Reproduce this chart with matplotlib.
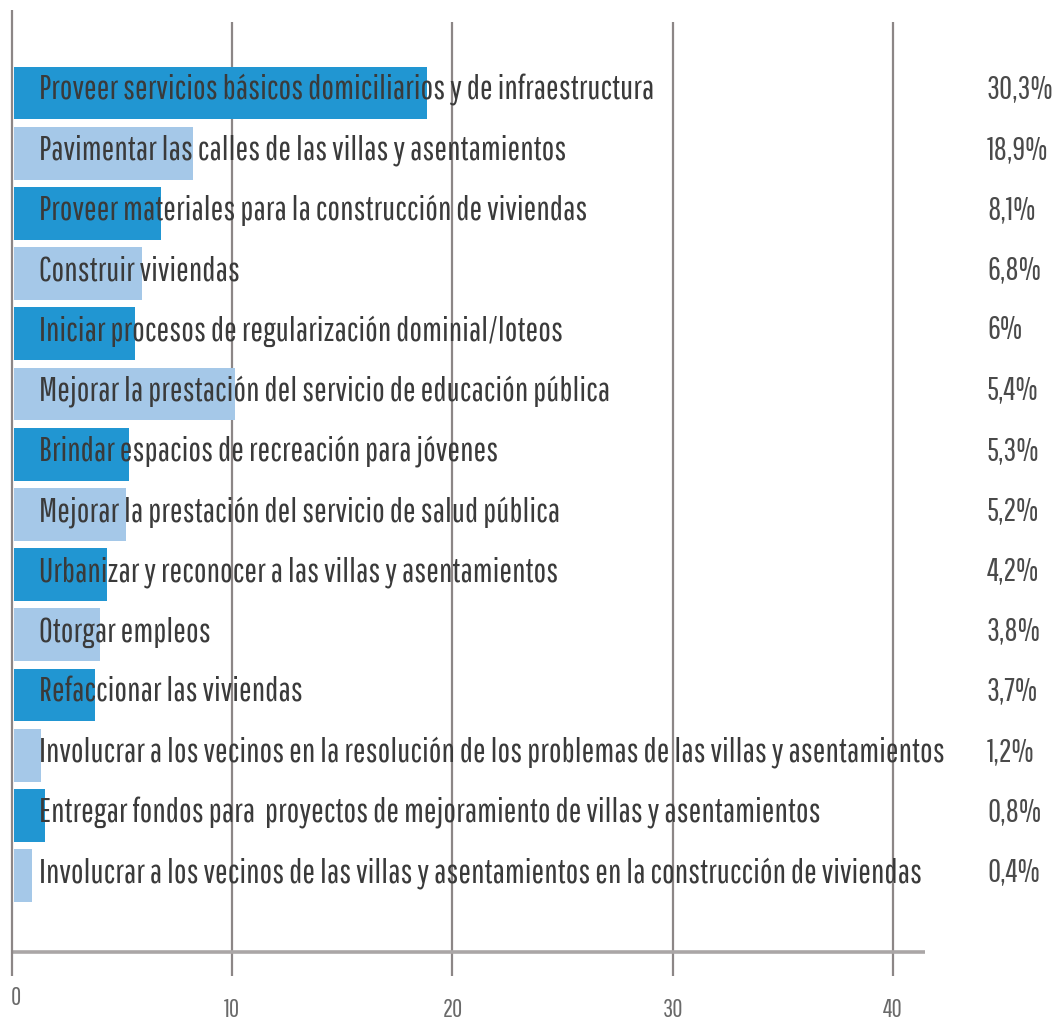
import matplotlib
matplotlib.use("Agg")
import matplotlib.pyplot as plt
from matplotlib import font_manager as fm

# ---- data ----
categories = [
    "Proveer servicios básicos domiciliarios y de infraestructura",
    "Pavimentar las calles de las villas y asentamientos",
    "Proveer materiales para la construcción de viviendas",
    "Construir viviendas",
    "Iniciar procesos de regularización dominial/loteos",
    "Mejorar la prestación del servicio de educación pública",
    "Brindar espacios de recreación para jóvenes",
    "Mejorar la prestación del servicio de salud pública",
    "Urbanizar y reconocer a las villas y asentamientos",
    "Otorgar empleos",
    "Refaccionar las viviendas",
    "Involucrar a los vecinos en la resolución de los problemas de las villas y asentamientos",
    "Entregar fondos para  proyectos de mejoramiento de villas y asentamientos",
    "Involucrar a los vecinos de las villas y asentamientos en la construcción de viviendas",
]
bar_values = [18.75, 8.15, 6.7, 5.8, 5.5, 10.05, 5.25, 5.1, 4.25, 3.9, 3.7, 1.25, 1.4, 0.85]
pct_labels = ["30,3%", "18,9%", "8,1%", "6,8%", "6%", "5,4%", "5,3%", "5,2%",
              "4,2%", "3,8%", "3,7%", "1,2%", "0,8%", "0,4%"]
x_ticks = [0, 10, 20, 30, 40]
x_tick_labels = ["0", "10", "20", "30", "40"]

# ---- fonts ----
avail = {f.name for f in fm.fontManager.ttflist}
def pick(cands):
    for c in cands:
        if c in avail:
            return c
    return "DejaVu Sans"
label_font = pick(["Pathway Gothic One", "Saira ExtraCondensed", "Sofia Sans Extra Condensed",
                   "Barlow Condensed", "Roboto Condensed", "DejaVu Sans"])

W, H = 1062, 1021
fig = plt.figure(figsize=(W / 100, H / 100), dpi=100)
ax = fig.add_axes([0, 0, 1, 1])

# pixel mapping
x0_px, px_per_unit = 12.0, 22.025
row0_px, row_px = 93.0, 60.2
def xd(px):
    return (px - x0_px) / px_per_unit
def yd(px):
    return (px - row0_px) / row_px

ax.set_xlim(xd(0), xd(W))
ax.set_ylim(yd(H), yd(0))
ax.axis("off")

dark = "#2196D2"
light = "#A5C8E8"
colors = [dark if i % 2 == 0 else light for i in range(len(categories))]
ypos = list(range(len(categories)))

ax.barh(ypos, bar_values, height=0.88, left=0.08, color=colors, zorder=2)

# grid lines
grid_col = "#8c8686"
ax.vlines(x_ticks[1:], yd(22), yd(976), color=grid_col, lw=1.6, zorder=1)
ax.vlines([0], yd(10), yd(976), color=grid_col, lw=1.6, zorder=3)
ax.hlines([yd(952)], 0, xd(925), color="#aaa6a6", lw=2.6, zorder=1)

# labels
for i, (cat, pct) in enumerate(zip(categories, pct_labels)):
    ax.text(xd(39), i + 0.11, cat, fontsize=24.3, family=label_font,
            color="#3a3a3a", va="baseline", ha="left", zorder=4)
    ax.text(xd(987), i + 0.09, pct, fontsize=23.0, family=label_font,
            color="#4a4a4a", va="baseline", ha="left", zorder=4)

# tick labels
for xt, lab in zip(x_ticks, x_tick_labels):
    ypx = 998 if xt == 0 else 1010
    xx = xd(16) if xt == 0 else xt
    ax.text(xx, yd(ypx), lab, fontsize=18, family=label_font, color="#6a6a6a",
            ha="center", va="center")

fig.savefig("out.png", dpi=100)
